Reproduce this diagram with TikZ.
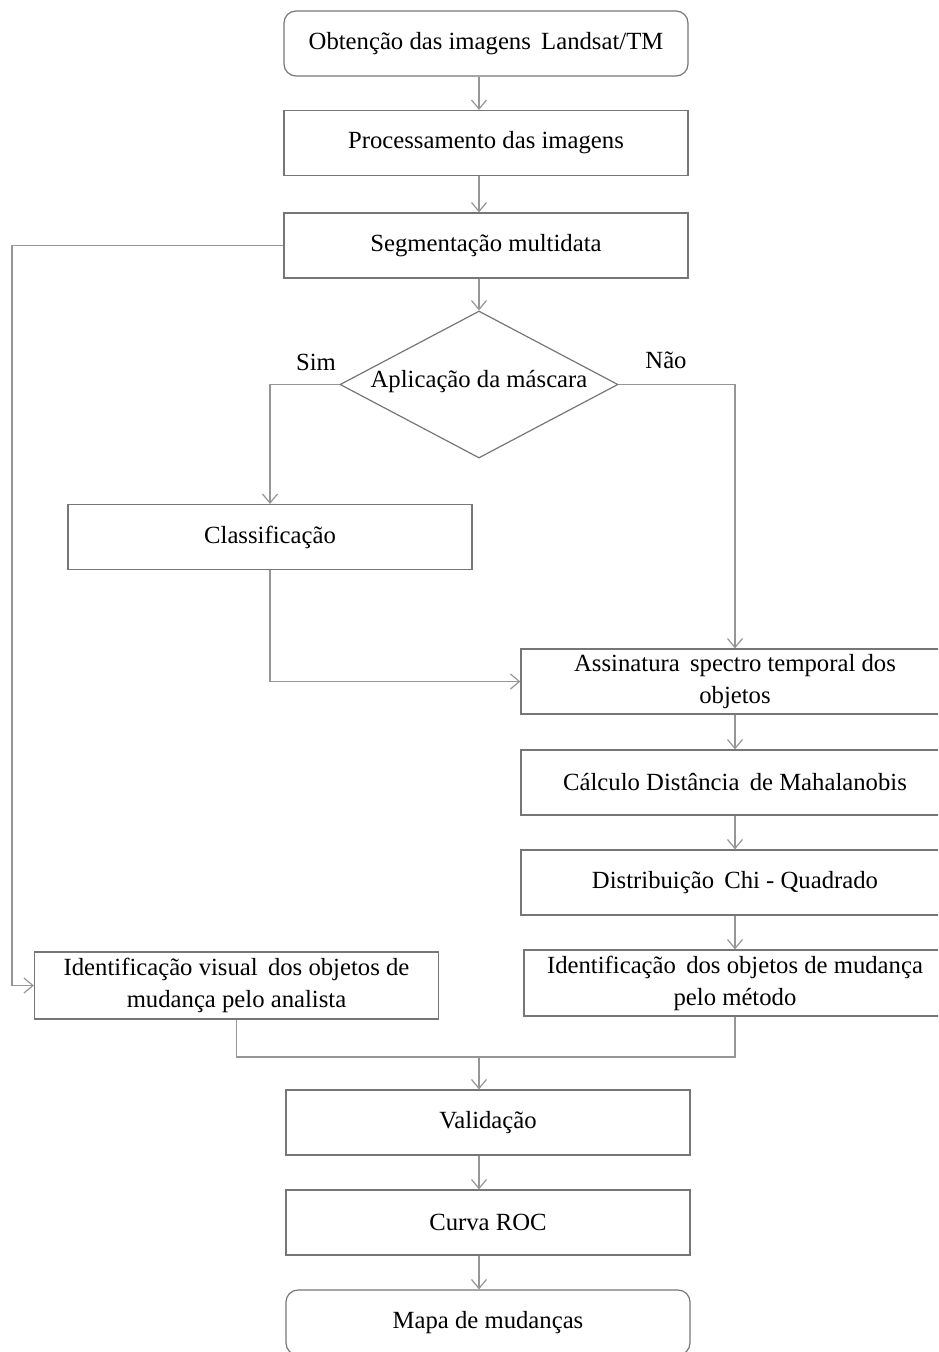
\documentclass[tikz,border=0pt]{standalone}
\usepackage{fontspec}
\setmainfont{Liberation Serif}
\usetikzlibrary{arrows.meta,shapes.geometric}
\definecolor{boxgray}{RGB}{118,118,118}
\definecolor{linegray}{RGB}{150,150,150}
\begin{document}
\begin{tikzpicture}[x=1pt,y=-1pt,
    font=\fontsize{24.7}{32}\selectfont,
    box/.style={draw=boxgray, line width=1.2pt, minimum width=404pt, minimum height=65pt, inner sep=0pt, align=center},
    endbox/.style={box, rounded corners=12pt},
    widebox/.style={box, minimum width=428pt},
    decision/.style={diamond, draw=boxgray, line width=1.2pt, minimum width=278pt, minimum height=147pt, inner sep=0pt},
    arr/.style={draw=linegray, line width=1.2pt, -{Straight Barb[length=9pt,width=15pt]}},
    ln/.style={draw=linegray, line width=1.2pt}]
\useasboundingbox (0,0) rectangle (938,1352);
\clip (0,0) rectangle (938,1352);

% coluna central
\node[endbox] (obt) at (486,43.5) {Obtenção das imagens\, Landsat/TM};
\node[box] (proc) at (486,143) {Processamento das imagens};
\node[box] (seg) at (486,245.5) {Segmentação multidata};
\node[decision] (dia) at (479,384.5) {};
\node (diatxt) at (479,382) {Aplicação da máscara};
\node (sim) at (316,362) {Sim};
\node (nao) at (666,360) {Não};

% ramos
\node[box] (cls) at (270,537) {Classificação};
\node[widebox] (ass) at (735,681.5) {Assinatura\, spectro temporal dos\\objetos};
\node[widebox] (calc) at (735,782.5) {Cálculo Distância\, de Mahalanobis};
\node[widebox] (dist) at (735,882.5) {Distribuição\, Chi - Quadrado};
\node[box, minimum width=422pt, minimum height=66pt] (idm) at (735,983) {Identificação\, dos objetos de mudança\\pelo método};
\node[box, minimum height=67pt] (idv) at (236.5,985.5) {Identificação visual\, dos objetos de\\mudança pelo analista};

% final
\node[box] (val) at (488,1122.5) {Validação};
\node[box] (roc) at (488,1222.5) {Curva ROC};
\node[endbox] (mapa) at (488,1322.5) {Mapa de mudanças};

% ligacoes
\draw[arr] (obt.south -| dia.north) -- (proc.north -| dia.north);
\draw[arr] (proc.south -| dia.north) -- (seg.north -| dia.north);
\draw[arr] (seg.south -| dia.north) -- (dia.north);
\draw[arr] (seg.west) -- (12,245.5) |- (idv.west);
\draw[arr] (dia.west) -| (cls.north);
\draw[arr] (dia.east) -| (ass.north);
\draw[arr] (cls.south) |- (ass.west);
\foreach \a/\b in {ass/calc,calc/dist,dist/idm}
    \draw[arr] (\a) -- (\b);
\coordinate (junta) at (479,1057);
\draw[ln] (idv.south) |- (junta) -| (idm.south);
\draw[arr] (junta) -- (val.north -| junta);
\draw[arr] (val.south -| dia.north) -- (roc.north -| dia.north);
\draw[arr] (roc.south -| dia.north) -- (mapa.north -| dia.north);
\end{tikzpicture}
\end{document}
